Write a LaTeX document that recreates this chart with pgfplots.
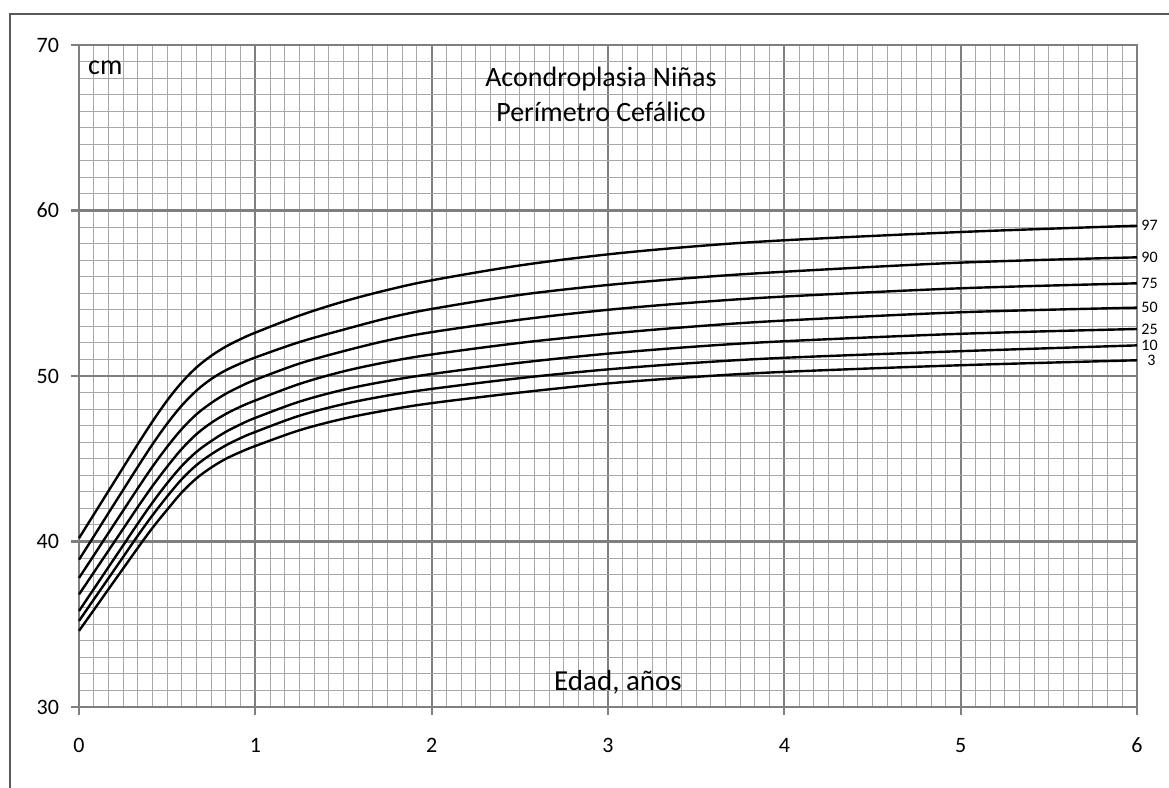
\documentclass[border=0pt]{standalone}
\usepackage{fontspec}
\setmainfont{Carlito}
\usepackage{pgfplots}
\pgfplotsset{compat=1.18}
\usepackage{pgfplotstable}
\definecolor{majgrid}{HTML}{7F7F7F}
\definecolor{mingrid}{HTML}{A8A8A8}
\definecolor{frame}{HTML}{5A5A5A}
\pgfplotstableread{
x        p97   p90   p75   p50   p25   p10   p3
0        40.2  38.9  37.8  36.8  35.8  35.2  34.6
0.08333  41.62 40.3  39.15 38.12 37.12 36.49 35.85
0.16667  43.04 41.71 40.51 39.44 38.44 37.77 37.11
0.25     44.46 43.11 41.86 40.76 39.76 39.06 38.36
0.33333  45.88 44.51 43.21 42.08 41.08 40.35 39.61
0.41667  47.25 45.87 44.52 43.35 42.35 41.58 40.82
0.5      48.52 47.12 45.72 44.52 43.52 42.72 41.92
0.58333  49.62 48.22 46.8  45.6  44.57 43.77 42.97
0.66667  50.52 49.12 47.69 46.49 45.42 44.62 43.82
0.75     51.22 49.82 48.37 47.17 46.07 45.27 44.47
0.83333  51.78 50.35 48.93 47.71 46.63 45.81 45.0
0.91667  52.23 50.76 49.38 48.15 47.08 46.25 45.41
1        52.62 51.12 49.77 48.52 47.47 46.62 45.77
1.25     53.65 52.05 50.75 49.52 48.45 47.6  46.72
1.5      54.5  52.8  51.5  50.28 49.17 48.3  47.42
1.75     55.2  53.5  52.15 50.85 49.7  48.82 47.94
2        55.78 54.05 52.65 51.3  50.12 49.22 48.36
2.5      56.68 54.9  53.4  52.0  50.8  49.87 49.0
3        57.35 55.5  54.0  52.55 51.35 50.4  49.55
3.5      57.84 55.95 54.45 53.0  51.78 50.8  49.95
4        58.2  56.3  54.8  53.35 52.1  51.1  50.25
5        58.7  56.85 55.3  53.85 52.55 51.5  50.65
6        59.08 57.17 55.6  54.13 52.84 51.85 50.95
}\datatable
\begin{document}
\begin{tikzpicture}
\useasboundingbox (-39.5pt,-40.5pt) rectangle (545pt,353.5pt);
\draw[frame, line width=0.8pt] (-34.5pt,-45pt) -- (-34.5pt,346.5pt) -- (550pt,346.5pt);
\begin{axis}[
  scale only axis,
  width=529pt, height=331pt,
  xmin=0, xmax=6, ymin=30, ymax=70,
  xtick={0,1,2,3,4,5,6},
  ytick={30,40,50,60,70},
  minor x tick num=11,
  minor y tick num=9,
  grid=both,
  major grid style={majgrid, line width=1.1pt},
  minor grid style={mingrid, line width=0.5pt},
  axis line style={majgrid, line width=1.2pt},
  tick style={majgrid, line width=1.1pt},
  major tick length=4pt,
  minor tick length=0pt,
  tick pos=left,
  tick align=outside,
  xticklabel style={font=\fontsize{11}{13}\selectfont, yshift=-8pt},
  yticklabel style={font=\fontsize{11}{13}\selectfont, xshift=-2.5pt},
  /pgf/number format/assume math mode=true,
  clip=false,
]
\foreach \c in {p97,p90,p75,p50,p25,p10,p3}{
  \addplot[black, line width=1.2pt, smooth, tension=0.55] table[x=x, y=\c] {\datatable};
}
\node[anchor=west, font=\fontsize{8}{9}\selectfont, inner sep=0pt] at (axis cs:6,59.08) {\hspace{2pt}97};
\node[anchor=west, font=\fontsize{8}{9}\selectfont, inner sep=0pt] at (axis cs:6,57.17) {\hspace{2pt}90};
\node[anchor=west, font=\fontsize{8}{9}\selectfont, inner sep=0pt] at (axis cs:6,55.6) {\hspace{2pt}75};
\node[anchor=west, font=\fontsize{8}{9}\selectfont, inner sep=0pt] at (axis cs:6,54.13) {\hspace{2pt}50};
\node[anchor=west, font=\fontsize{8}{9}\selectfont, inner sep=0pt] at (axis cs:6,52.84) {\hspace{2pt}25};
\node[anchor=west, font=\fontsize{8}{9}\selectfont, inner sep=0pt] at (axis cs:6,51.85) {\hspace{2pt}10};
\node[anchor=west, font=\fontsize{8}{9}\selectfont, inner sep=0pt] at (axis cs:6,50.95) {\hspace{5pt}3};
\node[anchor=base west, font=\fontsize{14}{16}\selectfont, inner sep=0pt] at (axis cs:0.05,68.2) {cm};
\node[anchor=base, font=\fontsize{14}{16}\selectfont, inner sep=0pt] at (axis cs:2.96,67.48) {Acondroplasia Niñas};
\node[anchor=base, font=\fontsize{14}{16}\selectfont, inner sep=0pt] at (axis cs:2.96,65.37) {Perímetro Cefálico};
\node[anchor=base, font=\fontsize{14.5}{16}\selectfont, inner sep=0pt] at (axis cs:3.057,31.0) {Edad, años};
\end{axis}
\end{tikzpicture}
\end{document}
